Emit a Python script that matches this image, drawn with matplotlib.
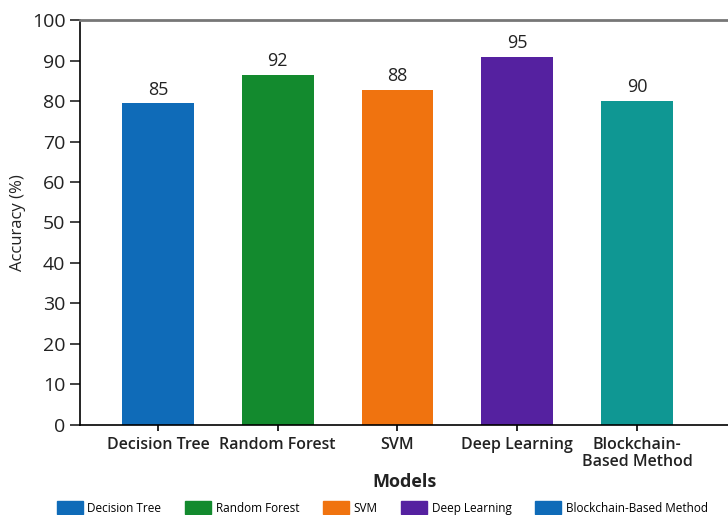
import matplotlib
matplotlib.use("Agg")
import matplotlib.pyplot as plt
from matplotlib.patches import Patch

plt.rcParams['font.family'] = ['Open Sans', 'DejaVu Sans']

models = ['Decision Tree', 'Random Forest', 'SVM', 'Deep Learning', 'Blockchain-\nBased Method']
legend_names = ['Decision Tree', 'Random Forest', 'SVM', 'Deep Learning', 'Blockchain-Based Method']
bar_heights = [79.4, 86.4, 82.7, 90.9, 80.0]   # drawn heights as seen
value_labels = ['85', '92', '88', '95', '90']  # printed labels
colors = ['#0f6bb8', '#138a2e', '#f0730f', '#5521a0', '#0f9793']
legend_colors = ['#0f6bb8', '#138a2e', '#f0730f', '#5521a0', '#0f6bb8']

fig = plt.figure(figsize=(7.28, 5.15), dpi=100)
ax = fig.add_axes([0.11, 0.175, 0.89, 0.786])

x = range(len(models))
bars = ax.bar(x, bar_heights, width=0.6, color=colors)
for b, lab in zip(bars, value_labels):
    ax.text(b.get_x() + b.get_width() / 2, b.get_height() + 1.2, lab,
            ha='center', va='bottom', fontsize=13, color='#222222')

ax.set_ylim(0, 100)
ax.set_xlim(-0.65, 4.76)
ax.set_yticks(range(0, 101, 10))
ax.tick_params(axis='y', labelsize=14, length=7, width=1.2, colors='#222222')
ax.set_xticks(list(x))
ax.set_xticklabels(models, fontsize=11.5, color='#222222', fontweight='semibold',
                   linespacing=1.05)
ax.tick_params(axis='x', length=4, width=1.2, pad=5)
ax.spines['right'].set_visible(False)
ax.spines['top'].set_color('#777777')
ax.spines['top'].set_linewidth(2)
ax.spines['left'].set_linewidth(1.2)
ax.spines['bottom'].set_linewidth(1.2)
ax.set_ylabel('Accuracy (%)', fontsize=12, color='#222222', labelpad=4)
ax.set_xlabel('Models', fontsize=13, fontweight='bold', color='#222222', labelpad=2)

handles = [Patch(color=c, label=n) for c, n in zip(legend_colors, legend_names)]
fig.legend(handles=handles, loc='lower center', ncol=5, fontsize=8.5, frameon=False,
           bbox_to_anchor=(0.525, -0.02), handlelength=2.2, handleheight=1.3,
           columnspacing=2.0, handletextpad=0.4)

plt.savefig('out.png', dpi=100)
